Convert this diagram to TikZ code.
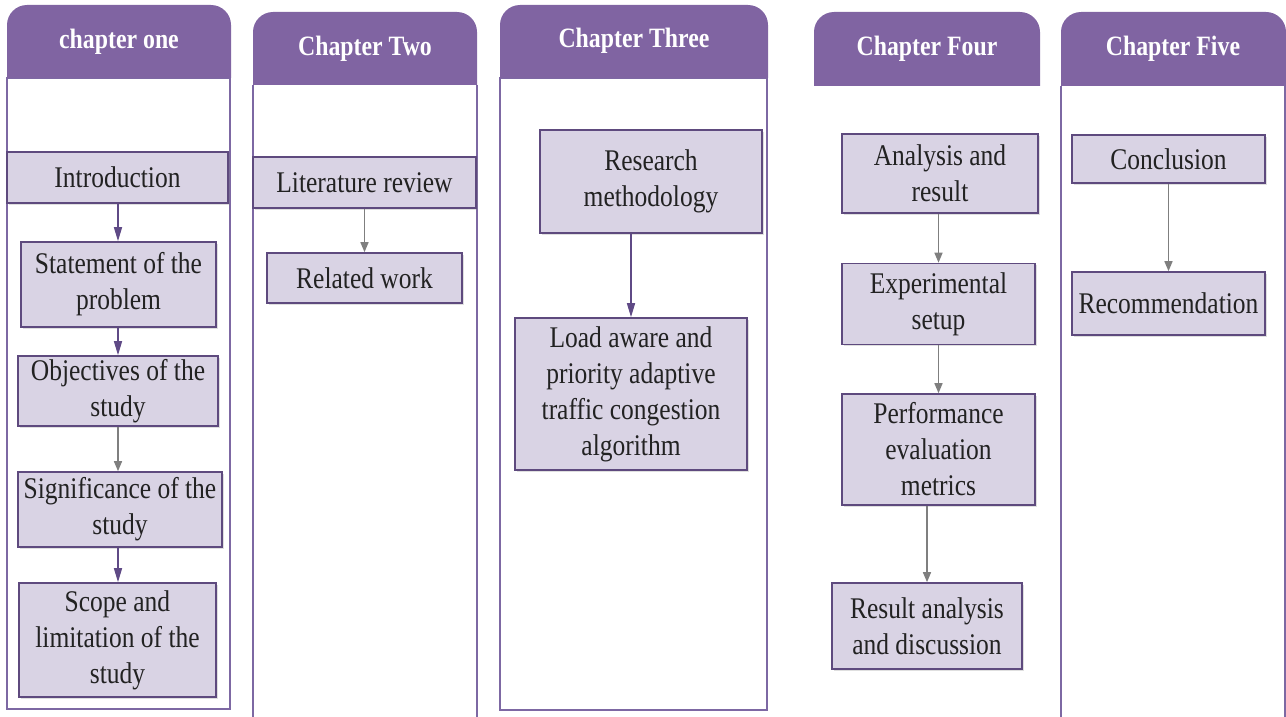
\documentclass[tikz,border=0pt]{standalone}
\usepackage{fontspec}
\setmainfont{Liberation Serif}[FakeStretch=0.85]
\usetikzlibrary{arrows.meta,shadows}

\definecolor{hdrpurple}{HTML}{8064A2}
\definecolor{boxfill}{HTML}{D9D3E4}
\definecolor{boxline}{HTML}{5E4A7E}
\definecolor{colline}{HTML}{7D68A3}
\definecolor{arrpurple}{HTML}{5F4A86}
\definecolor{arrgrey}{HTML}{7F7F7F}
\definecolor{inktext}{HTML}{222222}

\tikzset{
  hdrfill/.style={fill=hdrpurple},
  hdrtext/.style={text=white, font=\bfseries\fontsize{28}{32}\selectfont, inner sep=0},
  colframe/.style={draw=colline, line width=2pt},
  stepbox/.style={draw=boxline, fill=boxfill, line width=1.6pt, align=center,
    inner sep=0, text=inktext, font=\fontsize{30}{36}\selectfont,
    drop shadow={shadow xshift=1.5pt, shadow yshift=-1.5pt, opacity=0.25, fill=gray}},
  purplearrow/.style={draw=arrpurple, line width=1.5pt,
    -{Triangle[length=14pt,width=8pt,fill=arrpurple]}},
  greyarrow/.style={draw=arrgrey, line width=1.5pt,
    -{Triangle[length=10pt,width=8pt,fill=arrgrey]}},
}

% header tab with rounded top corners: left, right, top, bottom
\newcommand{\chaptertab}[4]{%
  \fill[hdrfill] (#1,#4) [rounded corners=20pt] -- (#1,#3) -- (#2,#3)
    [sharp corners] -- (#2,#4) -- cycle;}

\begin{document}
\begin{tikzpicture}[x=1pt, y=-1pt]
\useasboundingbox (0,0) rectangle (1286,717);

% ---- column frames ----
\draw[colframe] (7,78) rectangle (230,709);
\draw[colframe] (253,85) -- (253,717) (477,85) -- (477,717);
\draw[colframe] (500,78) rectangle (767,710);
\draw[colframe] (1061,86) -- (1061,717) (1285,86) -- (1285,717);

% ---- header tabs ----
\chaptertab{7}{231}{5}{78}
\chaptertab{253}{477}{12}{85}
\chaptertab{500}{768}{5}{78}
\chaptertab{814}{1040}{12}{86}
\chaptertab{1061}{1286}{12}{86}

\node[hdrtext] (h1) at (119,42) {chapter one};
\node[hdrtext] (h2) at (365,49) {Chapter Two};
\node[hdrtext] (h3) at (634,41) {Chapter Three};
\node[hdrtext] (h4) at (927,49) {Chapter Four};
\node[hdrtext] (h5) at (1173,49) {Chapter Five};

% ---- chapter one ----
\node[stepbox, minimum width=221, minimum height=51] (intro) at (117.5,177.5) {Introduction};
\node[stepbox, minimum width=195, minimum height=85] (stmt) at (118.5,284.5) {Statement of the\\problem};
\node[stepbox, minimum width=200, minimum height=70] (obj) at (118,391) {Objectives of the\\study};
\node[stepbox, minimum width=204, minimum height=75] (sig) at (120,509.5) {Significance of the\\study};
\node[stepbox, minimum width=197, minimum height=114] (scope) at (117.5,640) {Scope and\\limitation of the\\study};

\draw[purplearrow] (intro.south -| 118,0) -- (stmt.north -| 118,0);
\draw[purplearrow] (stmt.south -| 118,0) -- (obj.north -| 118,0);
\draw[greyarrow] (obj.south -| 118,0) -- (sig.north -| 118,0);
\draw[purplearrow] (sig.south -| 118,0) -- (scope.north -| 118,0);

% ---- chapter two ----
\node[stepbox, minimum width=223, minimum height=51] (lit) at (364.5,182.5) {Literature review};
\node[stepbox, minimum width=195, minimum height=50] (rel) at (364.5,278) {Related work};
\draw[greyarrow] (lit.south) -- (rel.north);

% ---- chapter three ----
\node[stepbox, minimum width=222, minimum height=103] (meth) at (651,181.5) {Research\\methodology};
\node[stepbox, minimum width=232, minimum height=152] (algo) at (631,394) {Load aware and\\priority adaptive\\traffic congestion\\algorithm};
\draw[purplearrow] (algo.north |- meth.south) -- (algo.north);

% ---- chapter four ----
\node[stepbox, minimum width=196, minimum height=79] (ana) at (940,173.5) {Analysis and\\result};
\node[stepbox, minimum width=193, minimum height=81] (exp) at (938.5,304) {Experimental\\setup};
\node[stepbox, minimum width=193, minimum height=111] (perf) at (938.5,449.5) {Performance\\evaluation\\metrics};
\node[stepbox, minimum width=190, minimum height=86] (res) at (927,626) {Result analysis\\and discussion};
\draw[greyarrow] (exp.north |- ana.south) -- (exp.north);
\draw[greyarrow] (exp.south) -- (perf.north);
\draw[greyarrow] (res.north |- perf.south) -- (res.north);

% ---- chapter five ----
\node[stepbox, minimum width=193, minimum height=48] (conc) at (1168.5,159) {Conclusion};
\node[stepbox, minimum width=193, minimum height=63] (rec) at (1168.5,303.5) {Recommendation};
\draw[greyarrow] (conc.south) -- (rec.north);
\end{tikzpicture}
\end{document}
